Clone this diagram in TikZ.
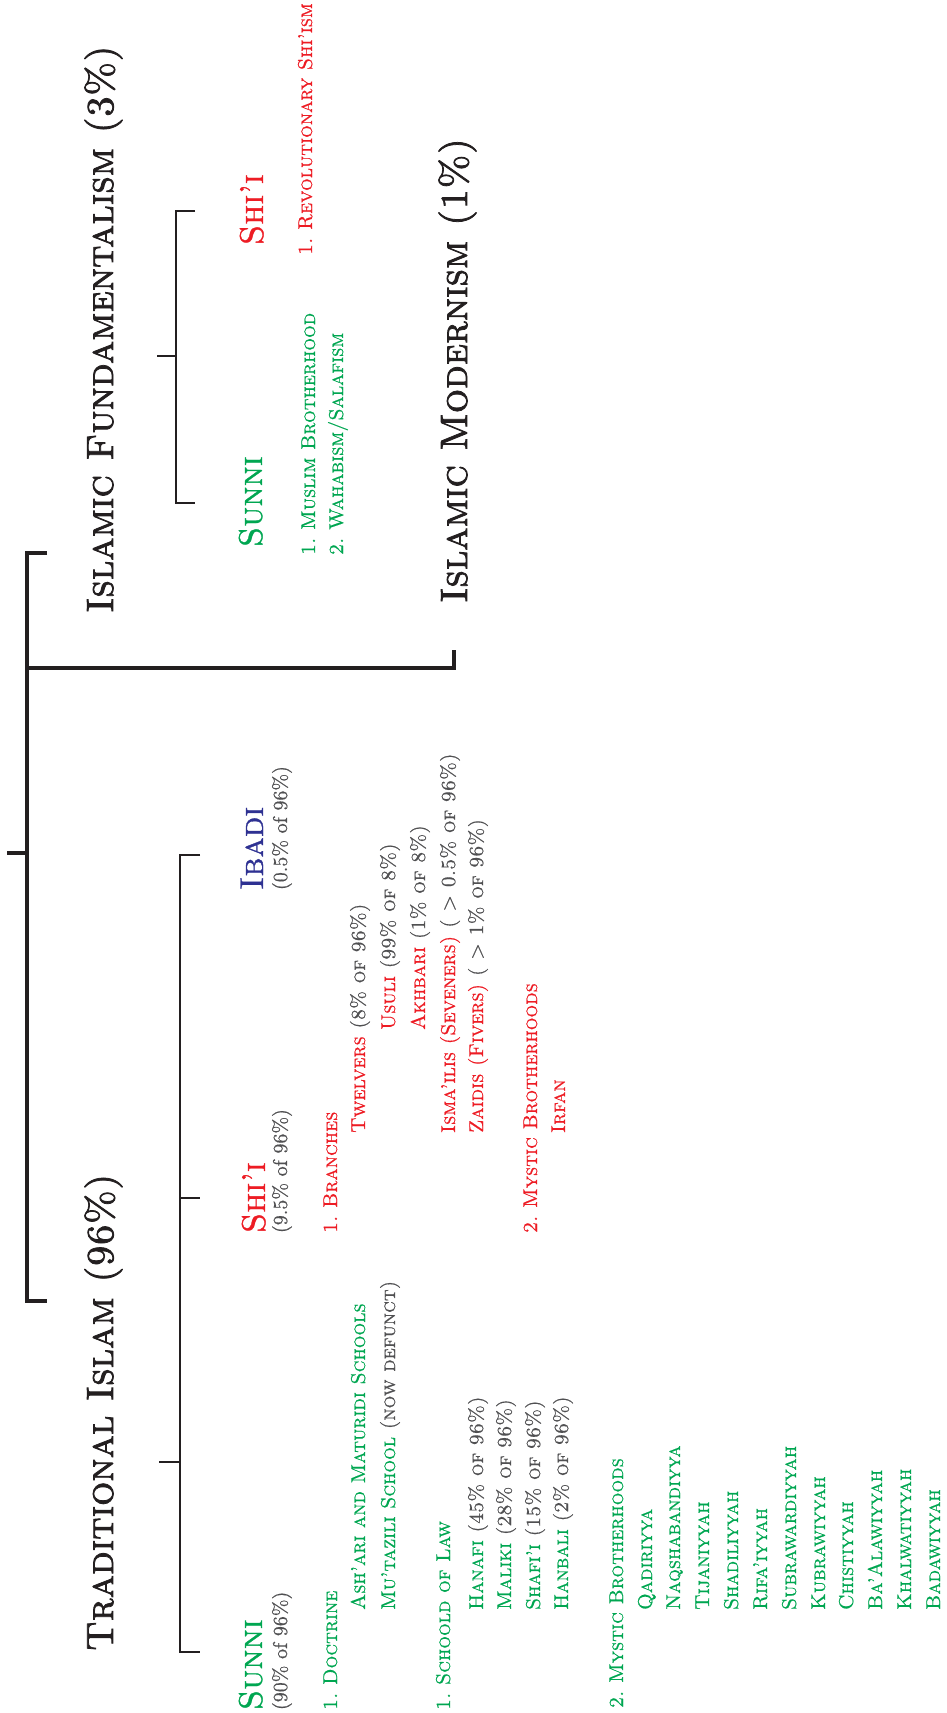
\documentclass[tikz,border=0pt]{standalone}
\usepackage{fontspec}
\usepackage{xcolor}
\usepackage{tikz}

\newfontfamily\capsfont{lmromancaps10-regular}[Extension=.otf]
\newfontfamily\capsheavy{lmromancaps10-regular}[Extension=.otf, FakeBold=2]
\newfontfamily\capsmedium{lmromancaps10-regular}[Extension=.otf, FakeBold=1]
\newfontfamily\capslight{lmromancaps10-regular}[Extension=.otf, FakeBold=0.6]
\newfontfamily\sharefont{lmroman10-regular}[Extension=.otf, FakeBold=0.6]

\definecolor{sunnigreen}{RGB}{0,166,81}
\definecolor{shiared}{RGB}{237,28,36}
\definecolor{ibadiblue}{RGB}{46,49,146}
\definecolor{sharegrey}{RGB}{80,80,82}
\definecolor{inkblack}{RGB}{35,31,32}

\frenchspacing

\begin{document}
\begin{tikzpicture}[
    x=1pt, y=1pt,
    txt/.style={rotate=90, anchor=base west, inner sep=0pt, outer sep=0pt},
    title/.style={txt, text=inkblack, font=\capsheavy\fontsize{38}{38}\selectfont},
    head/.style={txt, font=\capsmedium\fontsize{33}{33}\selectfont},
    share/.style={txt, text=sharegrey, font=\sharefont\fontsize{20}{20}\selectfont},
    item/.style={txt, font=\capslight\fontsize{20}{20}\selectfont},
    sunni/.style={item, text=sunnigreen},
    shii/.style={item, text=shiared},
    mainbar/.style={draw=inkblack, line width=4pt},
    subbar/.style={draw=inkblack, line width=2.5pt}
]
\useasboundingbox (0,0) rectangle (946,-1713);

% Main split
\coordinate (rootin) at (7,-853);
\coordinate (rootbar) at (27,-853);
\coordinate (fundend) at (47,-553);
\coordinate (tradend) at (47,-1301);
\coordinate (modbar) at (27,-668);
\coordinate (modend) at (454,-650);
\draw[mainbar] (rootin) -- (rootbar);
\draw[mainbar] (fundend) -| (rootbar) |- (tradend);
\draw[mainbar] (modbar) -| (modend);

\node[title] (fund) at (113,-613) {Islamic Fundamentalism (3\%)};
\node[title] (modern) at (467,-603) {Islamic Modernism (1\%)};
\node[title] (trad) at (113,-1651) {Traditional Islam (96\%)};

% Fundamentalism
\coordinate (fundin) at (157,-356);
\coordinate (fundbar) at (176,-356);
\coordinate (fshiiend) at (195,-211);
\coordinate (fsunniend) at (195,-503);
\draw[subbar] (fundin) -- (fundbar);
\draw[subbar] (fshiiend) -| (fundbar) |- (fsunniend);

\node[head, text=sunnigreen] (fsunni) at (262,-547) {Sunni};
\node[sunni] (fsunni1) at (315,-555) {1. Muslim Brotherhood};
\node[sunni] (fsunni2) at (343,-555) {2. Wahabism/Salafism};

\node[head, text=shiared] (fshii) at (263,-245) {Shi’i};
\node[shii] (fshii1) at (312,-255) {1. Revolutionary Shi’ism};

% Traditional
\coordinate (tradin) at (159,-1462);
\coordinate (tradbar) at (180,-1462);
\coordinate (ibadiend) at (200,-855);
\coordinate (shiiend) at (200,-1198);
\coordinate (shiibar) at (180,-1198);
\coordinate (sunniend) at (200,-1652);
\draw[subbar] (tradin) -- (tradbar);
\draw[subbar] (ibadiend) -| (tradbar) |- (sunniend);
\draw[subbar] (shiibar) -- (shiiend);

% Sunni
\node[head, text=sunnigreen] (sunni) at (262,-1710) {Sunni};
\node[share] (sunnishare) at (287,-1710) {(90\% of 96\%)};
\node[sunni] (doctrine) at (337,-1710) {1. Doctrine};
\node[sunni] (ashari) at (365,-1610) {Ash’ari and Maturidi Schools};
\node[sunni] (mutazili) at (395,-1610) {Mu’tazili School \textcolor{sharegrey}{(now defunct)}};
\node[sunni] (law) at (450,-1710) {1. Schoold of Law};
\node[sunni] (hanafi) at (483,-1610) {Hanafi \textcolor{sharegrey}{(45\% of 96\%)}};
\node[sunni] (maliki) at (511,-1610) {Maliki \textcolor{sharegrey}{(28\% of 96\%)}};
\node[sunni] (shafii) at (540,-1610) {Shafi’i \textcolor{sharegrey}{(15\% of 96\%)}};
\node[sunni] (hanbali) at (568,-1610) {Hanbali \textcolor{sharegrey}{(2\% of 96\%)}};
\node[sunni] (mystic) at (623,-1708) {2. Mystic Brotherhoods};
\node[sunni] (qadiriyya) at (652,-1610) {Qadiriyya};
\node[sunni] (naqsh) at (680,-1610) {Naqshabandiyya};
\node[sunni] (tijani) at (709,-1610) {Tijaniyyah};
\node[sunni] (shadili) at (738,-1610) {Shadiliyyah};
\node[sunni] (rifai) at (767,-1610) {Rifa’iyyah};
\node[sunni] (subrawardi) at (796,-1610) {Subrawardiyyah};
\node[sunni] (kubrawi) at (825,-1610) {Kubrawiyyah};
\node[sunni] (chisti) at (853,-1610) {Chistiyyah};
\node[sunni] (baalawi) at (882,-1610) {Ba’Alawiyyah};
\node[sunni] (khalwati) at (911,-1610) {Khalwatiyyah};
\node[sunni] (badawi) at (940,-1610) {Badawiyyah};

% Shi'i
\node[head, text=shiared] (shii) at (265,-1233) {Shi’i};
\node[share] (shiishare) at (287,-1233) {(9.5\% of 96\%)};
\node[shii] (branches) at (337,-1233) {1. Branches};
\node[shii] (twelvers) at (365,-1133) {Twelvers \textcolor{sharegrey}{(8\% of 96\%)}};
\node[shii] (usuli) at (395,-1030) {Usuli \textcolor{sharegrey}{(99\% of 8\%)}};
\node[shii] (akhbari) at (425,-1030) {Akhbari \textcolor{sharegrey}{(1\% of 8\%)}};
\node[shii] (ismailis) at (455,-1133) {Isma’ilis (Seveners) \textcolor{sharegrey}{( > 0.5\% of 96\%)}};
\node[shii] (zaidis) at (483,-1133) {Zaidis (Fivers) \textcolor{sharegrey}{( > 1\% of 96\%)}};
\node[shii] (smystic) at (537,-1233) {2. Mystic Brotherhoods};
\node[shii] (irfan) at (565,-1133) {Irfan};

% Ibadi
\node[head, text=ibadiblue] (ibadi) at (263,-890) {Ibadi};
\node[share] (ibadishare) at (287,-890) {(0.5\% of 96\%)};

\end{tikzpicture}
\end{document}
